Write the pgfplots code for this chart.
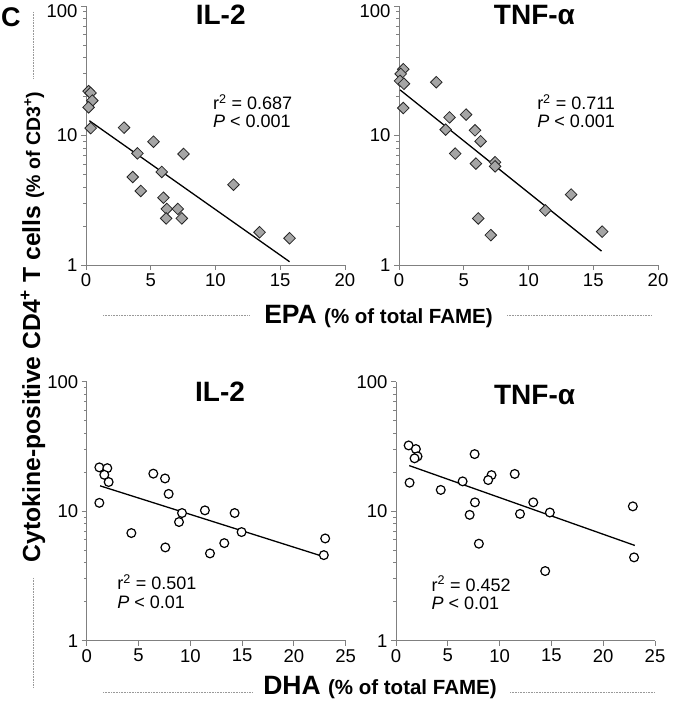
\documentclass[border=0pt]{standalone}
\usepackage{fontspec}
\setmainfont{Liberation Sans}
\usepackage{pgfplots}
\pgfplotsset{compat=1.18}
\definecolor{axgray}{RGB}{128,128,128}
\definecolor{dfill}{RGB}{165,165,165}
\tikzset{
  myttl/.style={anchor=base, font=\bfseries\fontsize{28}{28}\selectfont},
  mystat/.style={anchor=north west, align=left, inner sep=0pt, font=\fontsize{18}{18.5}\selectfont},
  dotline/.style={draw=gray!80, line width=0.9pt, dash pattern=on 0.7pt off 0.9pt},
}
\begin{document}
\begin{tikzpicture}
\useasboundingbox (0pt,0pt) rectangle (674pt,705pt);
% ---- top left: IL-2 vs EPA
\begin{axis}[scale only axis, width=259pt, height=259pt, anchor=south west, at={(86pt,440pt)},
    ymode=log, ymin=1, ymax=100, ytick={1,10,100}, yticklabels={1,10,\raisebox{-5pt}[\height][\depth]{100}},
    xmin=0, xmax=20, xtick={0,5,10,15,20},
    axis x line*=bottom, axis y line*=left,
    axis line style={-, draw=axgray, line width=0.9pt},
    tick align=outside, major tick length=5pt,
    tick style={draw=axgray, line width=0.9pt},
    /pgf/number format/assume math mode=true,
    tick label style={font=\fontsize{18.5}{18.5}\selectfont},
    clip=false]
\addplot[only marks, mark=square*, mark size=4.1pt,
    mark options={rotate=45, fill=dfill, draw=black!85, line width=0.8pt}] coordinates {
 (0.2,22.0) (0.35,21.3) (0.49,18.6) (0.2,16.5) (0.36,11.4) (2.94,11.5)
 (5.21,8.96) (3.97,7.28) (7.53,7.2) (3.61,4.78) (4.23,3.73) (5.85,5.23)
 (11.39,4.17) (5.98,3.31) (6.24,2.71) (7.09,2.71) (6.19,2.29) (7.40,2.29)
 (13.40,1.79) (15.72,1.61)};
\addplot[no marks, black, line width=1.3pt] coordinates {(0.26,13.0) (15.72,1.06)};
\node[myttl] at (rel axis cs:0.52,0.927) {IL-2};
\node[mystat] at (rel axis cs:0.49,0.66) {r\textsuperscript{2} = 0.687\\\textit{P} < 0.001};
\end{axis}
% ---- top right: TNF vs EPA
\begin{axis}[scale only axis, width=259pt, height=259pt, anchor=south west, at={(399pt,440pt)},
    ymode=log, ymin=1, ymax=100, ytick={1,10,100}, yticklabels={1,10,\raisebox{-5pt}[\height][\depth]{100}},
    xmin=0, xmax=20, xtick={0,5,10,15,20},
    axis x line*=bottom, axis y line*=left,
    axis line style={-, draw=axgray, line width=0.9pt},
    tick align=outside, major tick length=5pt,
    tick style={draw=axgray, line width=0.9pt},
    /pgf/number format/assume math mode=true,
    tick label style={font=\fontsize{18.5}{18.5}\selectfont},
    clip=false]
\addplot[only marks, mark=square*, mark size=4.1pt,
    mark options={rotate=45, fill=dfill, draw=black!85, line width=0.8pt}] coordinates {
 (0.33,32.5) (0.13,29.9) (0.08,26.4) (0.38,25.1) (0.33,16.3) (2.88,25.8)
 (3.90,13.8) (5.18,14.5) (3.60,11.1) (5.87,10.96) (6.30,9.02) (4.34,7.25)
 (5.94,6.07) (7.42,6.22) (7.42,5.78) (11.30,2.64) (13.29,3.50) (6.12,2.29)
 (7.09,1.70) (15.69,1.81)};
\addplot[no marks, black, line width=1.3pt] coordinates {(0.08,22.5) (15.64,1.28)};
\node[myttl] at (rel axis cs:0.523,0.927) {TNF-α};
\node[mystat] at (rel axis cs:0.533,0.66) {r\textsuperscript{2} = 0.711\\\textit{P} < 0.001};
\end{axis}
% ---- bottom left: IL-2 vs DHA
\begin{axis}[scale only axis, width=259pt, height=259pt, anchor=south west, at={(86.7pt,64.3pt)},
    ymode=log, ymin=1, ymax=100, ytick={1,10,100}, yticklabels={1,10,100},
    xmin=0, xmax=25, xtick={0,5,10,15,20,25},
    axis x line*=bottom, axis y line*=left,
    axis line style={-, draw=axgray, line width=0.9pt},
    tick align=outside, major tick length=5pt,
    tick style={draw=axgray, line width=0.9pt},
    /pgf/number format/assume math mode=true,
    tick label style={font=\fontsize{18.5}{18.5}\selectfont},
    clip=false]
\addplot[only marks, mark=*, mark size=4.4pt,
    mark options={fill=white, draw=black, line width=1.2pt}] coordinates {
 (1.22,21.8) (1.99,21.5) (1.70,19.1) (2.12,16.8) (1.22,11.6) (6.43,19.5)
 (7.56,17.9) (7.91,13.6) (9.20,9.68) (8.91,8.25) (11.41,10.15) (14.28,9.68)
 (14.95,6.90) (4.31,6.78) (7.59,5.25) (11.90,4.72) (13.28,5.67) (23.02,6.16)
 (22.89,4.58)};
\addplot[no marks, black, line width=1.3pt] coordinates {(1.29,15.7) (22.83,4.47)};
\node[myttl] at (rel axis cs:0.515,0.923) {IL-2};
\node[mystat] at (rel axis cs:0.118,0.255) {r\textsuperscript{2} = 0.501\\\textit{P} < 0.01};
\end{axis}
% ---- bottom right: TNF vs DHA
\begin{axis}[scale only axis, width=259pt, height=259pt, anchor=south west, at={(396pt,64.3pt)},
    ymode=log, ymin=1, ymax=100, ytick={1,10,100}, yticklabels={1,10,100},
    xmin=0, xmax=25, xtick={0,5,10,15,20,25},
    axis x line*=bottom, axis y line*=left,
    axis line style={-, draw=axgray, line width=0.9pt},
    tick align=outside, major tick length=5pt,
    tick style={draw=axgray, line width=0.9pt},
    /pgf/number format/assume math mode=true,
    tick label style={font=\fontsize{18.5}{18.5}\selectfont},
    clip=false]
\addplot[only marks, mark=*, mark size=4.4pt,
    mark options={fill=white, draw=black, line width=1.2pt}] coordinates {
 (1.22,32.2) (1.92,30.2) (2.08,26.5) (1.79,25.6) (1.31,16.6) (7.59,27.6)
 (4.32,14.6) (6.43,17.0) (9.22,19.0) (8.90,17.4) (11.46,19.4) (7.62,11.7)
 (7.11,9.37) (11.97,9.53) (13.25,11.7) (14.85,9.77) (8.00,5.61) (14.40,3.45)
 (22.86,10.9) (22.98,4.40)};
\addplot[no marks, black, line width=1.3pt] coordinates {(1.28,22.5) (23.05,5.44)};
\node[myttl] at (rel axis cs:0.535,0.913) {TNF-α};
\node[mystat] at (rel axis cs:0.137,0.25) {r\textsuperscript{2} = 0.452\\\textit{P} < 0.01};
\end{axis}
% ---- shared labels
\node[anchor=base west, inner sep=0pt, font=\bfseries\fontsize{27}{27}\selectfont] at (1pt,678pt) {C};
\draw[dotline] (33pt,693pt) -- (33pt,627pt);
\draw[dotline] (33pt,127pt) -- (33pt,17pt);
\node[rotate=90, anchor=base, inner sep=0pt, font=\bfseries] at (40pt,378pt)
  {\fontsize{24.7}{24.7}\selectfont Cytokine-positive CD4\textsuperscript{+} T cells \fontsize{19.5}{19.5}\selectfont(\% of CD3\textsuperscript{+})};
\draw[dotline] (103pt,390pt) -- (250pt,390pt);
\draw[dotline] (507pt,390pt) -- (652pt,390pt);
\node[anchor=base, inner sep=0pt, font=\bfseries] at (378.5pt,381.7pt)
  {\fontsize{26.5}{26.5}\selectfont EPA \fontsize{20.5}{20.5}\selectfont(\% of total FAME)};
\draw[dotline] (103pt,13pt) -- (252pt,13pt);
\draw[dotline] (510pt,13pt) -- (655pt,13pt);
\node[anchor=base, inner sep=0pt, font=\bfseries] at (380pt,10pt)
  {\fontsize{26.5}{26.5}\selectfont DHA \fontsize{20.5}{20.5}\selectfont(\% of total FAME)};
\end{tikzpicture}
\end{document}
